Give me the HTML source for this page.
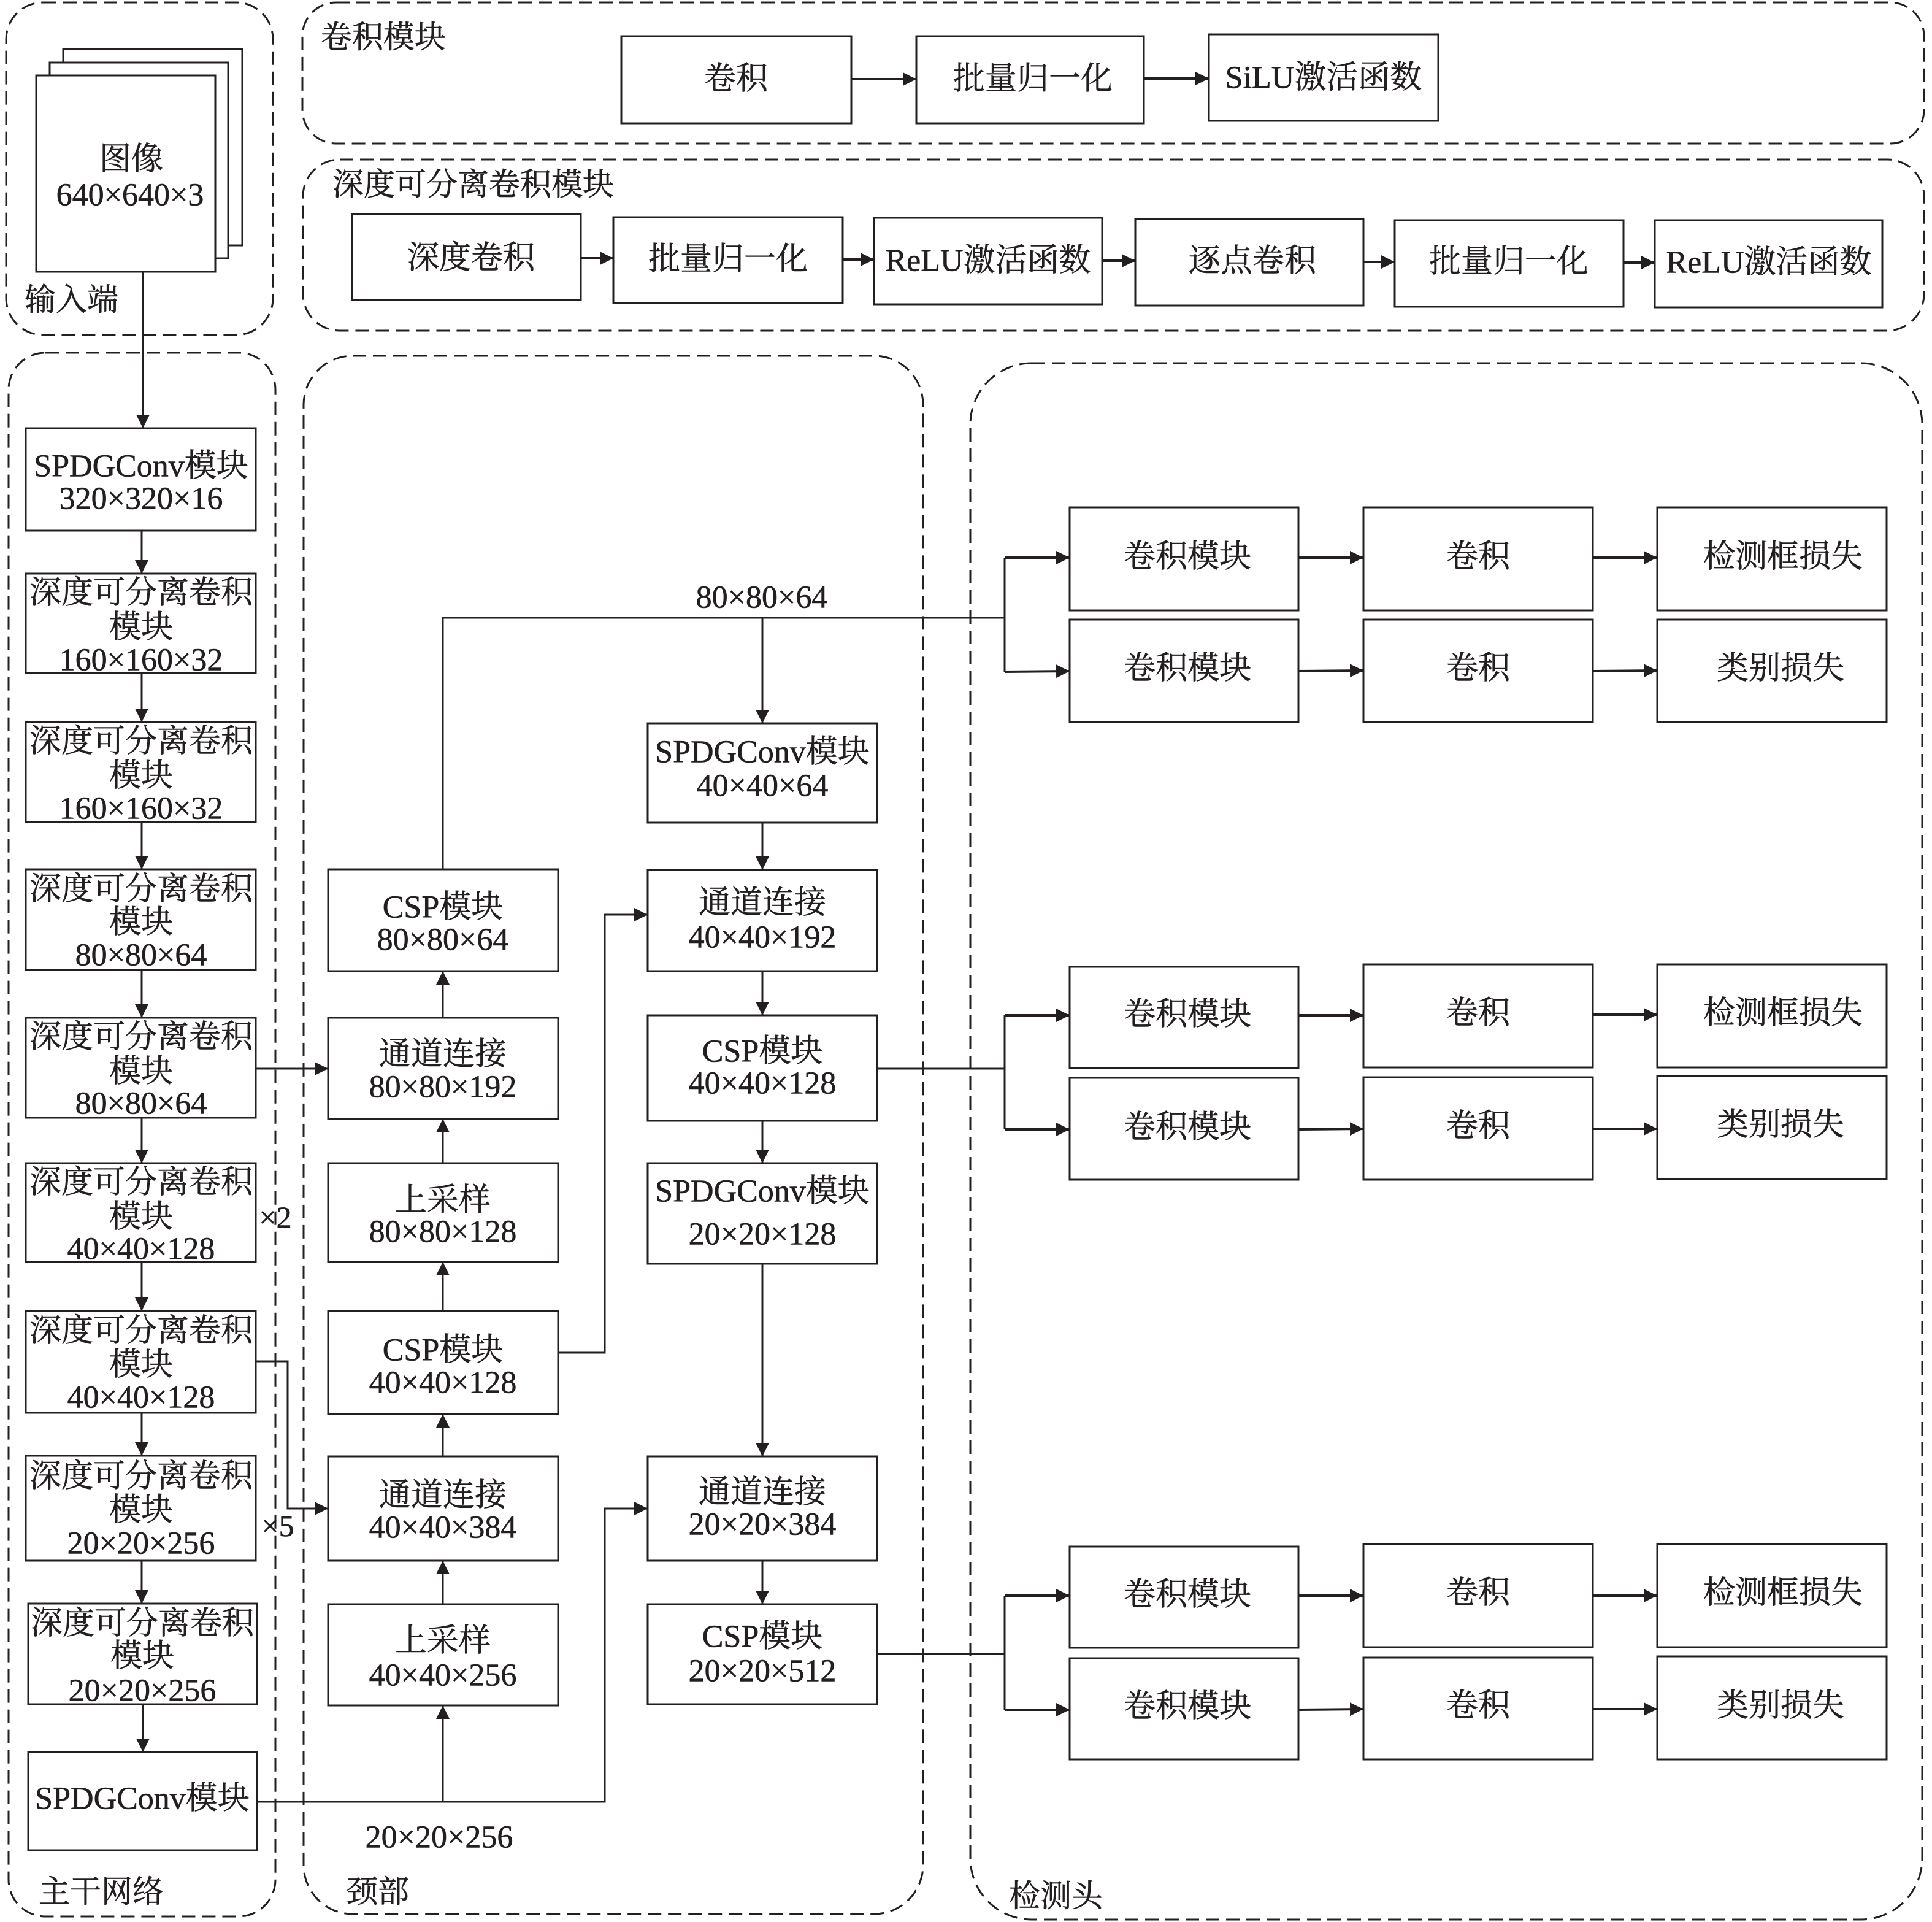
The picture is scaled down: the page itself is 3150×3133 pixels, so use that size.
<!DOCTYPE html>
<html>
<head>
<meta charset="utf-8">
<style>
  html, body { margin: 0; padding: 0; background: #ffffff; }
  body { width: 3150px; height: 3133px; overflow: hidden; }
  svg { display: block; }
  text { font-family: "Liberation Serif", "Noto Serif CJK SC", serif; fill: #231f20; font-size: 52px; stroke: #231f20; stroke-width: 0.6px; }
  .c { text-anchor: middle; dominant-baseline: central; }
  .l { text-anchor: start; dominant-baseline: central; font-size: 51px; }
  .box { fill: #ffffff; stroke: #231f20; stroke-width: 3; }
  .dash { fill: none; stroke: #231f20; stroke-width: 3; stroke-dasharray: 22 11; }
  .ln { fill: none; stroke: #231f20; stroke-width: 3; }
  .ar { fill: none; stroke: #231f20; stroke-width: 3; marker-end: url(#ah); }
  .arb { fill: none; stroke: #231f20; stroke-width: 4; marker-end: url(#ah); }
</style>
</head>
<body>
<svg width="3150" height="3133" viewBox="0 0 3150 3133" xmlns="http://www.w3.org/2000/svg">
  <defs>
    <marker id="ah" viewBox="0 0 22 22" refX="22" refY="11" markerWidth="22" markerHeight="22" markerUnits="userSpaceOnUse" orient="auto">
      <path d="M0,0 L22,11 L0,22 z" fill="#231f20"/>
    </marker>
  </defs>

  <!-- Dashed containers -->
  <rect class="dash" x="10" y="4" width="435" height="542" rx="60" ry="60"/>
  <rect class="dash" x="493" y="4" width="2644" height="230" rx="55" ry="55"/>
  <rect class="dash" x="494" y="260" width="2643" height="279" rx="60" ry="60"/>
  <rect class="dash" x="14" y="575" width="435" height="2549" rx="60" ry="60"/>
  <rect class="dash" x="495" y="580" width="1010" height="2540" rx="80" ry="80"/>
  <rect class="dash" x="1582" y="592" width="1552" height="2537" rx="100" ry="100"/>

  <!-- Section labels -->
  <text class="l" x="523" y="62">卷积模块</text>
  <text class="l" x="542" y="302">深度可分离卷积模块</text>
  <text class="l" x="40" y="490">输入端</text>
  <text class="l" x="63" y="3085">主干网络</text>
  <text class="l" x="565" y="3085">颈部</text>
  <text class="l" x="1645" y="3092">检测头</text>

  <!-- Conv module row -->
  <rect class="box" x="1013" y="59" width="375" height="142"/>
  <text class="c" x="1200" y="129">卷积</text>
  <rect class="box" x="1494" y="59" width="371" height="142"/>
  <text class="c" x="1684" y="129">批量归一化</text>
  <rect class="box" x="1971" y="56" width="374" height="141"/>
  <text class="c" x="2158" y="127">SiLU激活函数</text>
  <path class="arb" d="M1388,129 L1494,129"/>
  <path class="arb" d="M1865,128 L1971,128"/>

  <!-- Depthwise separable row -->
  <rect class="box" x="574" y="349" width="373" height="140"/>
  <text class="c" x="768" y="421">深度卷积</text>
  <rect class="box" x="1000" y="354" width="374" height="140"/>
  <text class="c" x="1187" y="423">批量归一化</text>
  <rect class="box" x="1425" y="355" width="372" height="141"/>
  <text class="c" x="1611" y="425">ReLU激活函数</text>
  <rect class="box" x="1851" y="357" width="372" height="141"/>
  <text class="c" x="2042" y="426">逐点卷积</text>
  <rect class="box" x="2274" y="359" width="373" height="141"/>
  <text class="c" x="2460" y="427">批量归一化</text>
  <rect class="box" x="2698" y="359" width="371" height="142"/>
  <text class="c" x="2884" y="428">ReLU激活函数</text>
  <path class="arb" d="M947,421 L1000,421"/>
  <path class="arb" d="M1374,423 L1425,423"/>
  <path class="arb" d="M1797,425 L1851,425"/>
  <path class="arb" d="M2223,427 L2274,427"/>
  <path class="arb" d="M2647,428 L2698,428"/>

  <!-- Input image stack -->
  <rect class="box" x="103" y="80" width="292" height="320"/>
  <rect class="box" x="81" y="102" width="291" height="319"/>
  <rect class="box" x="59" y="123" width="292" height="320"/>
  <text class="c" x="214" y="260">图像</text>
  <text class="c" x="212" y="318">640×640×3</text>
  <path class="ar" d="M233,443 L233,698"/>

  <!-- Backbone -->
  <rect class="box" x="42" y="698" width="375" height="167"/>
  <text class="c" x="230" y="760">SPDGConv模块</text>
  <text class="c" x="230" y="813">320×320×16</text>

  <rect class="box" x="42" y="935" width="375" height="162"/>
  <text class="c" x="230" y="967">深度可分离卷积</text>
  <text class="c" x="230" y="1023">模块</text>
  <text class="c" x="230" y="1076">160×160×32</text>

  <rect class="box" x="42" y="1177" width="375" height="163"/>
  <text class="c" x="230" y="1209">深度可分离卷积</text>
  <text class="c" x="230" y="1265">模块</text>
  <text class="c" x="230" y="1318">160×160×32</text>

  <rect class="box" x="42" y="1417" width="375" height="164"/>
  <text class="c" x="230" y="1450">深度可分离卷积</text>
  <text class="c" x="230" y="1504">模块</text>
  <text class="c" x="230" y="1557">80×80×64</text>

  <rect class="box" x="42" y="1659" width="375" height="163"/>
  <text class="c" x="230" y="1691">深度可分离卷积</text>
  <text class="c" x="230" y="1747">模块</text>
  <text class="c" x="230" y="1799">80×80×64</text>

  <rect class="box" x="42" y="1896" width="375" height="161"/>
  <text class="c" x="230" y="1928">深度可分离卷积</text>
  <text class="c" x="230" y="1984">模块</text>
  <text class="c" x="230" y="2036">40×40×128</text>

  <rect class="box" x="42" y="2137" width="375" height="166"/>
  <text class="c" x="230" y="2170">深度可分离卷积</text>
  <text class="c" x="230" y="2225">模块</text>
  <text class="c" x="230" y="2278">40×40×128</text>

  <rect class="box" x="42" y="2373" width="375" height="171"/>
  <text class="c" x="230" y="2407">深度可分离卷积</text>
  <text class="c" x="230" y="2462">模块</text>
  <text class="c" x="230" y="2516">20×20×256</text>

  <rect class="box" x="46" y="2614" width="373" height="164"/>
  <text class="c" x="232" y="2647">深度可分离卷积</text>
  <text class="c" x="232" y="2700">模块</text>
  <text class="c" x="232" y="2756">20×20×256</text>

  <rect class="box" x="46" y="2856" width="373" height="160"/>
  <text class="c" x="232" y="2932">SPDGConv模块</text>

  <path class="ar" d="M231,865 L231,935"/>
  <path class="ar" d="M231,1097 L231,1177"/>
  <path class="ar" d="M231,1340 L231,1417"/>
  <path class="ar" d="M231,1581 L231,1659"/>
  <path class="ar" d="M231,1822 L231,1896"/>
  <path class="ar" d="M231,2057 L231,2137"/>
  <path class="ar" d="M231,2303 L231,2373"/>
  <path class="ar" d="M231,2544 L231,2614"/>
  <path class="ar" d="M233,2778 L233,2856"/>

  <text class="c" x="449" y="1984" style="font-size:50px">×2</text>
  <text class="c" x="453" y="2487" style="font-size:50px">×5</text>

  <!-- Neck left column -->
  <rect class="box" x="535" y="1417" width="375" height="166"/>
  <text class="c" x="722" y="1479">CSP模块</text>
  <text class="c" x="722" y="1532">80×80×64</text>

  <rect class="box" x="535" y="1659" width="375" height="165"/>
  <text class="c" x="722" y="1719">通道连接</text>
  <text class="c" x="722" y="1772">80×80×192</text>

  <rect class="box" x="535" y="1896" width="375" height="161"/>
  <text class="c" x="722" y="1957">上采样</text>
  <text class="c" x="722" y="2008">80×80×128</text>

  <rect class="box" x="535" y="2137" width="375" height="168"/>
  <text class="c" x="722" y="2201">CSP模块</text>
  <text class="c" x="722" y="2254">40×40×128</text>

  <rect class="box" x="535" y="2374" width="375" height="170"/>
  <text class="c" x="722" y="2438">通道连接</text>
  <text class="c" x="722" y="2490">40×40×384</text>

  <rect class="box" x="535" y="2615" width="375" height="165"/>
  <text class="c" x="722" y="2675">上采样</text>
  <text class="c" x="722" y="2731">40×40×256</text>

  <path class="ar" d="M722,1659 L722,1583"/>
  <path class="ar" d="M722,1896 L722,1824"/>
  <path class="ar" d="M722,2137 L722,2057"/>
  <path class="ar" d="M722,2374 L722,2305"/>
  <path class="ar" d="M722,2615 L722,2544"/>
  <path class="ar" d="M722,2937 L722,2780"/>

  <!-- Neck right column -->
  <rect class="box" x="1056" y="1179" width="374" height="162"/>
  <text class="c" x="1243" y="1226">SPDGConv模块</text>
  <text class="c" x="1243" y="1281">40×40×64</text>

  <rect class="box" x="1056" y="1418" width="374" height="165"/>
  <text class="c" x="1243" y="1472">通道连接</text>
  <text class="c" x="1243" y="1528">40×40×192</text>

  <rect class="box" x="1056" y="1655" width="374" height="172"/>
  <text class="c" x="1243" y="1714">CSP模块</text>
  <text class="c" x="1243" y="1766">40×40×128</text>

  <rect class="box" x="1056" y="1896" width="374" height="164"/>
  <text class="c" x="1243" y="1942">SPDGConv模块</text>
  <text class="c" x="1243" y="2012">20×20×128</text>

  <rect class="box" x="1056" y="2374" width="374" height="170"/>
  <text class="c" x="1243" y="2433">通道连接</text>
  <text class="c" x="1243" y="2485">20×20×384</text>

  <rect class="box" x="1056" y="2615" width="374" height="163"/>
  <text class="c" x="1243" y="2668">CSP模块</text>
  <text class="c" x="1243" y="2724">20×20×512</text>

  <path class="ar" d="M1243,1007 L1243,1179"/>
  <path class="ar" d="M1243,1341 L1243,1418"/>
  <path class="ar" d="M1243,1583 L1243,1655"/>
  <path class="ar" d="M1243,1827 L1243,1896"/>
  <path class="ar" d="M1243,2060 L1243,2374"/>
  <path class="ar" d="M1243,2544 L1243,2615"/>

  <!-- Cross connections -->
  <path class="ar" d="M417,1742 L535,1742"/>
  <path class="ar" d="M417,2219 L469,2219 L469,2459 L535,2459"/>
  <path class="ar" d="M910,2205 L986,2205 L986,1491 L1056,1491"/>
  <path class="ar" d="M419,2937 L986,2937 L986,2459 L1056,2459"/>
  <path class="ln" d="M722,1417 L722,1007 L1638,1007"/>
  <text class="c" x="1242" y="974">80×80×64</text>
  <text class="c" x="716" y="2995">20×20×256</text>

  <!-- Head branch connectors -->
  <path class="ln" d="M1638,909 L1638,1095"/>
  <path class="arb" d="M1638,909 L1744,909"/>
  <path class="arb" d="M1638,1095 L1744,1094"/>

  <path class="ln" d="M1430,1742 L1638,1742"/>
  <path class="ln" d="M1638,1655 L1638,1841"/>
  <path class="arb" d="M1638,1655 L1744,1655"/>
  <path class="arb" d="M1638,1841 L1744,1841"/>

  <path class="ln" d="M1430,2696 L1638,2696"/>
  <path class="ln" d="M1638,2601 L1638,2787"/>
  <path class="arb" d="M1638,2601 L1744,2601"/>
  <path class="arb" d="M1638,2787 L1744,2787"/>

  <!-- Head group 1 -->
  <rect class="box" x="1744" y="827" width="373" height="168"/>
  <text class="c" x="1936" y="908">卷积模块</text>
  <rect class="box" x="1744" y="1010" width="373" height="167"/>
  <text class="c" x="1936" y="1090">卷积模块</text>
  <rect class="box" x="2223" y="827" width="374" height="168"/>
  <text class="c" x="2410" y="908">卷积</text>
  <rect class="box" x="2223" y="1010" width="374" height="167"/>
  <text class="c" x="2410" y="1090">卷积</text>
  <rect class="box" x="2702" y="827" width="374" height="168"/>
  <text class="c" x="2907" y="908">检测框损失</text>
  <rect class="box" x="2702" y="1010" width="374" height="167"/>
  <text class="c" x="2903" y="1090">类别损失</text>
  <path class="arb" d="M2117,909 L2223,909"/>
  <path class="arb" d="M2117,1094 L2223,1093"/>
  <path class="arb" d="M2597,909 L2702,909"/>
  <path class="arb" d="M2597,1094 L2702,1093"/>

  <!-- Head group 2 -->
  <rect class="box" x="1744" y="1576" width="373" height="165"/>
  <text class="c" x="1936" y="1654">卷积模块</text>
  <rect class="box" x="1744" y="1757" width="373" height="166"/>
  <text class="c" x="1936" y="1838">卷积模块</text>
  <rect class="box" x="2223" y="1572" width="374" height="168"/>
  <text class="c" x="2410" y="1652">卷积</text>
  <rect class="box" x="2223" y="1756" width="374" height="167"/>
  <text class="c" x="2410" y="1836">卷积</text>
  <rect class="box" x="2702" y="1572" width="374" height="168"/>
  <text class="c" x="2907" y="1652">检测框损失</text>
  <rect class="box" x="2702" y="1754" width="374" height="168"/>
  <text class="c" x="2903" y="1834">类别损失</text>
  <path class="arb" d="M2117,1655 L2223,1655"/>
  <path class="arb" d="M2117,1841 L2223,1840"/>
  <path class="arb" d="M2597,1654 L2702,1654"/>
  <path class="arb" d="M2597,1840 L2702,1840"/>

  <!-- Head group 3 -->
  <rect class="box" x="1744" y="2521" width="373" height="165"/>
  <text class="c" x="1936" y="2600">卷积模块</text>
  <rect class="box" x="1744" y="2703" width="373" height="165"/>
  <text class="c" x="1936" y="2782">卷积模块</text>
  <rect class="box" x="2223" y="2517" width="374" height="168"/>
  <text class="c" x="2410" y="2597">卷积</text>
  <rect class="box" x="2223" y="2702" width="374" height="166"/>
  <text class="c" x="2410" y="2781">卷积</text>
  <rect class="box" x="2702" y="2517" width="374" height="168"/>
  <text class="c" x="2907" y="2597">检测框损失</text>
  <rect class="box" x="2702" y="2700" width="374" height="168"/>
  <text class="c" x="2903" y="2781">类别损失</text>
  <path class="arb" d="M2117,2601 L2223,2601"/>
  <path class="arb" d="M2117,2787 L2223,2786"/>
  <path class="arb" d="M2597,2601 L2702,2601"/>
  <path class="arb" d="M2597,2786 L2702,2786"/>
</svg>
</body>
</html>
